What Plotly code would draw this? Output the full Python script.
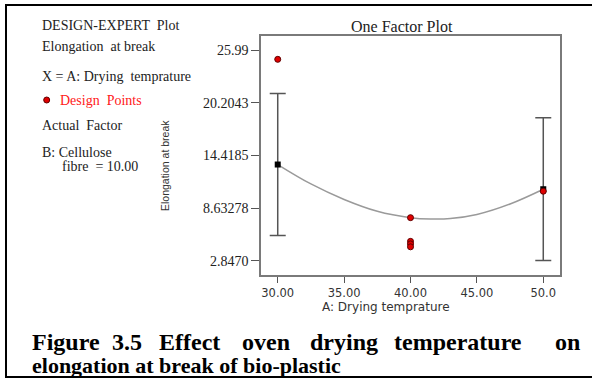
import plotly.graph_objects as go

# ---- data ----
design_x = [30, 40, 40, 40, 40, 50]
design_y = [24.97, 7.60, 5.00, 4.72, 4.40, 10.50]

pred_x = [30, 50]
pred_y = [13.43, 10.72]
pred_err = [7.80, 7.83]

curve_x = [30, 32.5, 35, 37.5, 40, 41.5, 43, 45, 47.5, 50]
curve_y = [13.43, 11.3, 9.6, 8.3, 7.6, 7.45, 7.5, 7.95, 9.1, 10.72]

y_tickvals = [2.8470, 8.63278, 14.4185, 20.2043, 25.99]
y_ticktext = ["2.8470", "8.63278", "14.4185", "20.2043", "25.99"]
x_tickvals = [30, 35, 40, 45, 50]
x_ticktext = ["30.00", "35.00", "40.00", "45.00", "50.0"]

# ---- layout geometry (pixels) ----
W, H = 592, 380
L, R, T, B = 261, 560, 36, 275


def px(x):
    return (x - L) / (R - L)


def py(y):
    return (B - y) / (B - T)


SERIF = "Liberation Serif"
SANS = "DejaVu Sans"

fig = go.Figure()

fig.add_trace(go.Scatter(
    x=curve_x, y=curve_y, mode="lines", line=dict(color="#9a9a9a", width=1.5, shape="spline"),
    hoverinfo="skip", showlegend=False))

fig.add_trace(go.Scatter(
    x=pred_x, y=pred_y, mode="markers",
    marker=dict(symbol="square", size=6, color="black"),
    error_y=dict(type="data", array=pred_err, visible=True, color="#555555", thickness=1.5, width=8),
    showlegend=False))

fig.add_trace(go.Scatter(
    x=design_x, y=design_y, mode="markers",
    marker=dict(symbol="circle", size=6, color="#e00000", line=dict(color="#600000", width=1)),
    showlegend=False))

fig.update_layout(
    width=W, height=H,
    margin=dict(l=L, r=W - R, t=T, b=H - B, pad=0),
    paper_bgcolor="white", plot_bgcolor="white",
    showlegend=False,
    xaxis=dict(range=[28.74, 51.26], tickvals=x_tickvals, ticktext=x_ticktext,
               ticks="outside", ticklen=6, tickcolor="#555555", tickwidth=1.2,
               showline=True, linecolor="#7a7a7a", linewidth=1.5, mirror=True,
               showgrid=False, zeroline=False,
               tickfont=dict(family=SANS, size=11.5, color="#333333")),
    yaxis=dict(range=[1.31, 27.53], tickvals=y_tickvals, ticktext=y_ticktext,
               ticks="outside", ticklen=8, tickcolor="#555555", tickwidth=1.2,
               showline=True, linecolor="#7a7a7a", linewidth=1.5, mirror=True,
               showgrid=False, zeroline=False,
               tickfont=dict(family=SERIF, size=14, color="#222222")),
)

ann = []


def text(x, y, s, size=11, family=SERIF, color="#222222", xanchor="left", bold=False, angle=0):
    ann.append(dict(xref="paper", yref="paper", x=px(x), y=py(y), text=s, showarrow=False,
                    xanchor=xanchor, yanchor="middle", textangle=angle,
                    font=dict(family=family, size=size, color=color,
                              weight="bold" if bold else "normal")))


# left panel
FS = 14
text(40, 25, "DESIGN-EXPERT  Plot", FS)
text(40, 46, "Elongation  at break", FS)
text(40, 77, "X = A: Drying  temprature", FS)
text(58, 100, "Design  Points", FS, color="#ff2020")
text(40, 125, "Actual  Factor", FS)
text(40, 152, "B: Cellulose", FS)
text(60, 166, "fibre  = 10.00", FS)

# chart title and axis titles
text(402, 27, "One Factor Plot", 16, xanchor="center")
text(386, 307, "A: Drying temprature", 12, family=SANS, xanchor="center", color="#333333")
text(165, 166, "Elongation at break", 10.5, family="Liberation Sans",
     xanchor="center", angle=-90, color="#333333")

# caption (justified first line)
line1 = [("Figure", 30), ("3.5", 110), ("Effect", 157), ("oven", 240),
         ("drying", 308), ("temperature", 392), ("on", 553)]
for w, x in line1:
    text(x, 342, w, 24, family=SERIF, color="black", bold=True)
text(30, 365, "elongation at break of bio-plastic", 22, family=SERIF, color="black", bold=True)

fig.update_layout(annotations=ann)

shapes = [
    # outer frame
    dict(type="rect", xref="paper", yref="paper", x0=px(6), x1=px(605), y0=py(377), y1=py(5),
         line=dict(color="black", width=2), fillcolor="rgba(0,0,0,0)", layer="below"),
    # legend dot
    dict(type="circle", xref="paper", yref="paper", x0=px(43.7), x1=px(49.7), y0=py(103), y1=py(97),
         line=dict(color="#600000", width=1), fillcolor="#e00000"),
]
fig.update_layout(shapes=shapes)

fig.write_html("out.html")
